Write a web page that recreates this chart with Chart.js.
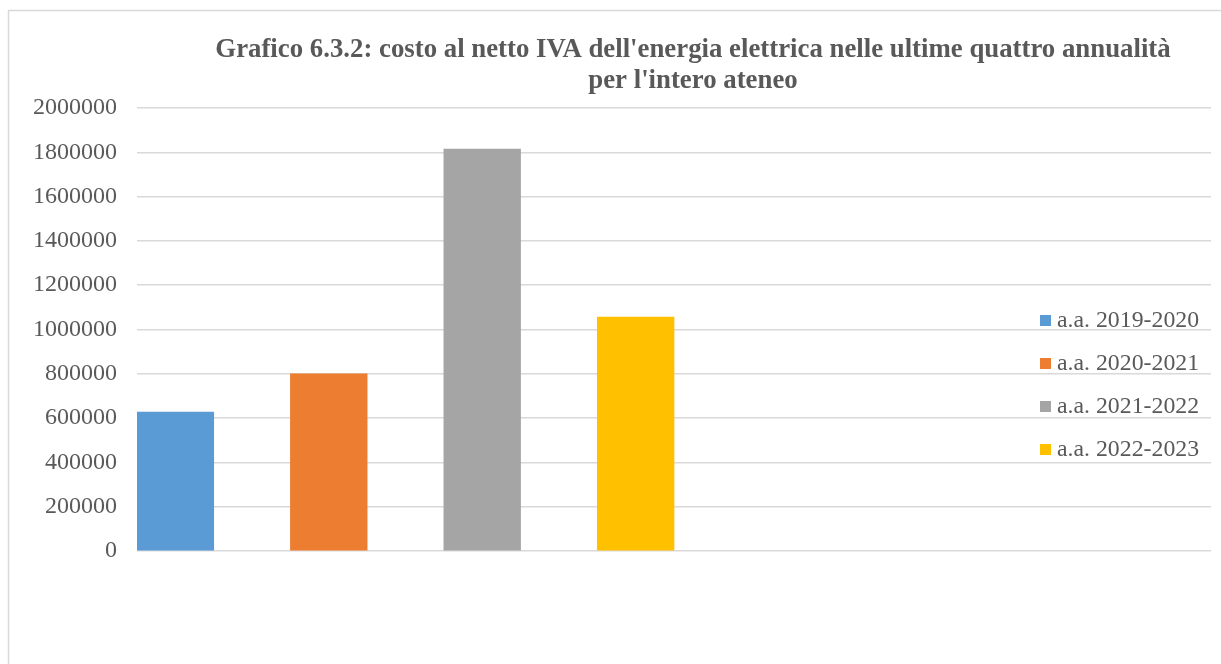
<!DOCTYPE html>
<html>
<head>
<meta charset="utf-8">
<script src="https://cdn.jsdelivr.net/npm/chart.js@4.4.1/dist/chart.umd.min.js"></script>
<style>
html,body{margin:0;padding:0;background:#fff;}
#wrap{position:relative;width:1221px;height:664px;}
</style>
</head>
<body>
<div id="wrap"><canvas id="c" width="1221" height="664"></canvas></div>
<script>
const titleLines = ["Grafico 6.3.2: costo al netto IVA dell'energia elettrica nelle ultime quattro annualità", "per l'intero ateneo"];
const seriesLabels = ["a.a. 2019-2020", "a.a. 2020-2021", "a.a. 2021-2022", "a.a. 2022-2023"];
const seriesValues = [627000, 800000, 1815000, 1056000];
const seriesColors = ["#5b9bd5", "#ed7d31", "#a5a5a5", "#ffc000"];
const slotLabels = ["", "", "", "", "", "", "", "", "", "", "", "", "", ""];
const slotIndex = [0, 2, 4, 6];
const yMin = 0, yMax = 2000000, yStep = 200000;

const FONT = "'Liberation Serif', 'Times New Roman', serif";
const TEXT = "#595959";
const GRID = "#d9d9d9";

const datasets = seriesLabels.map((lab, i) => {
  const d = slotLabels.map(() => null);
  d[slotIndex[i]] = seriesValues[i];
  return { label: lab, data: d, backgroundColor: seriesColors[i], borderWidth: 0,
           categoryPercentage: 1.0, barPercentage: 1.0, grouped: false };
});

const frame = {
  id: 'frame',
  beforeDraw(chart) {
    const ctx = chart.ctx;
    ctx.save();
    ctx.strokeStyle = GRID; ctx.lineWidth = 1.5;
    ctx.beginPath();
    ctx.moveTo(8.5, 700); ctx.lineTo(8.5, 10.5); ctx.lineTo(1230, 10.5);
    ctx.stroke();
    ctx.restore();
  },
  afterDraw(chart) {
    const ctx = chart.ctx;
    ctx.save();
    ctx.fillStyle = TEXT;
    ctx.font = "bold 26.8px " + FONT;
    ctx.textAlign = 'center'; ctx.textBaseline = 'middle';
    ctx.fillText(titleLines[0], 693, 50);
    ctx.fillText(titleLines[1], 693, 81);
    // legend
    ctx.font = "23.8px " + FONT;
    ctx.textAlign = 'left';
    const ys = [321, 364, 407, 450];
    chart.data.datasets.forEach((ds, i) => {
      ctx.fillStyle = ds.backgroundColor;
      ctx.fillRect(1040, ys[i] - 6, 11, 11);
      ctx.fillStyle = TEXT;
      ctx.fillText(ds.label, 1057, ys[i]);
    });
    ctx.restore();
  }
};

new Chart(document.getElementById('c'), {
  type: 'bar',
  data: { labels: slotLabels, datasets },
  options: {
    responsive: false,
    animation: false,
    devicePixelRatio: 1,
    layout: { padding: { left: 0, right: 10, top: 108, bottom: 113 } },
    plugins: { legend: { display: false }, title: { display: false }, tooltip: { enabled: false } },
    scales: {
      x: { display: false, offset: true, grid: { display: false } },
      y: {
        min: yMin, max: yMax,
        ticks: { stepSize: yStep, color: TEXT, font: { family: FONT, size: 24 }, padding: 20,
                 callback: (v) => String(v) },
        grid: { color: GRID, lineWidth: 1.5, drawTicks: false },
        border: { display: false },
        afterFit(scale) { scale.width = 137; }
      }
    }
  },
  plugins: [frame]
});
</script>
</body>
</html>
